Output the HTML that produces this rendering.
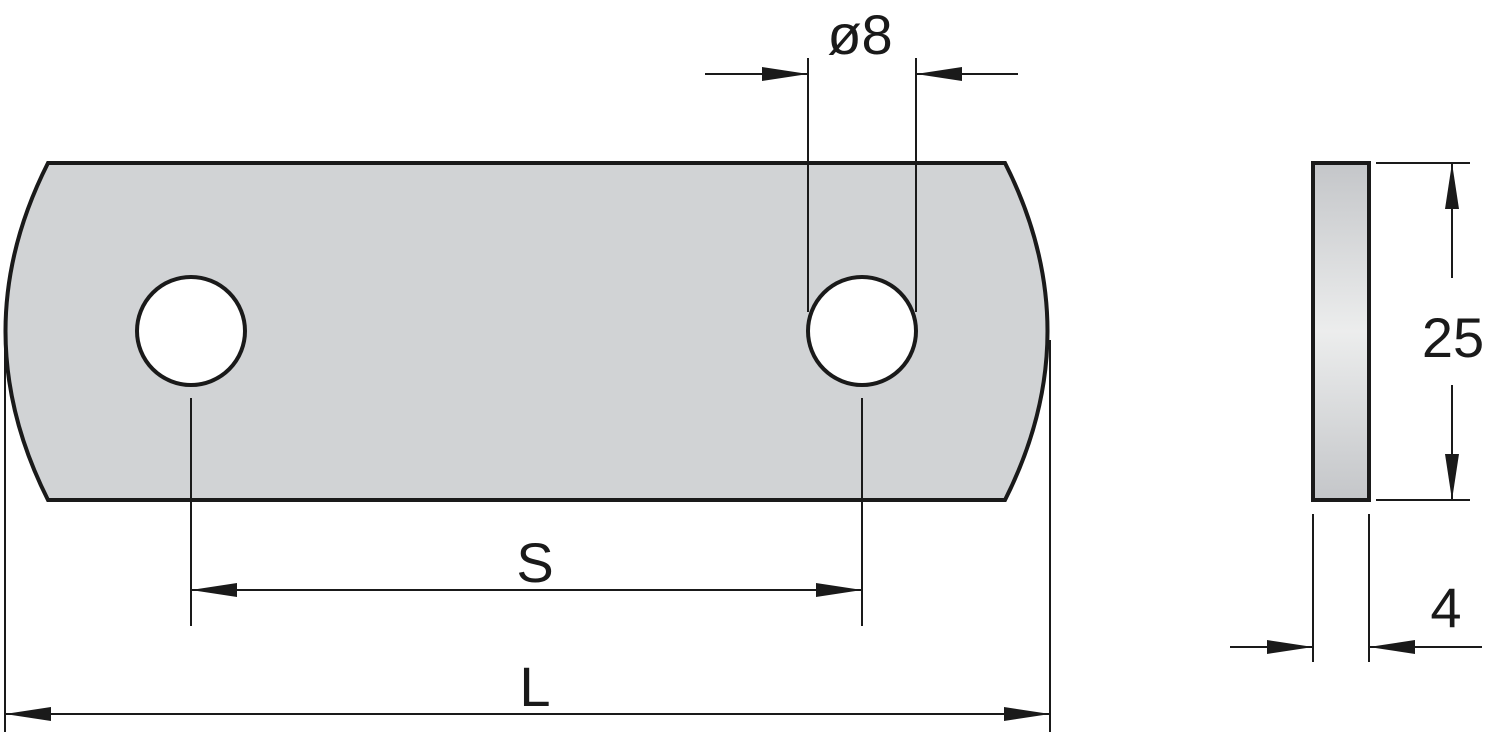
<!DOCTYPE html>
<html><head><meta charset="utf-8"><style>html,body{margin:0;padding:0;background:#fff}svg{display:block}</style></head>
<body>
<svg width="1488" height="734" viewBox="0 0 1488 734" xmlns="http://www.w3.org/2000/svg">
<defs>
<linearGradient id="g" x1="0" y1="0" x2="0" y2="1">
<stop offset="0" stop-color="#c4c6c9"/><stop offset="0.5" stop-color="#eceded"/><stop offset="1" stop-color="#c4c6c9"/>
</linearGradient>
<marker id="a" markerWidth="46" markerHeight="16" refX="46" refY="8" orient="auto" markerUnits="userSpaceOnUse">
<path d="M0,1 L46,8 L0,15 Z" fill="#1a1a1a"/></marker>
</defs>
<g stroke="#1a1a1a" fill="none">
<path d="M48,163 L1005,163 Q1090,331 1005,500 L48,500 Q-37,331 48,163 Z" fill="#d1d3d5" stroke-width="4"/>
<circle cx="191" cy="331" r="54" fill="#fff" stroke-width="4"/>
<circle cx="862" cy="331" r="54" fill="#fff" stroke-width="4"/>
<rect x="1313" y="163" width="56" height="337" fill="url(#g)" stroke-width="4"/>
<g stroke-width="2">
<line x1="808" y1="58" x2="808" y2="312"/><line x1="916" y1="58" x2="916" y2="312"/>
<line x1="705" y1="74" x2="808" y2="74" marker-end="url(#a)"/>
<line x1="1018" y1="74" x2="916" y2="74" marker-end="url(#a)"/>
<line x1="191" y1="398" x2="191" y2="626"/><line x1="862" y1="398" x2="862" y2="626"/>
<line x1="520" y1="590" x2="191" y2="590" marker-end="url(#a)"/>
<line x1="520" y1="590" x2="862" y2="590" marker-end="url(#a)"/>
<line x1="5" y1="340" x2="5" y2="732"/><line x1="1050" y1="340" x2="1050" y2="732"/>
<line x1="520" y1="714" x2="5" y2="714" marker-end="url(#a)"/>
<line x1="520" y1="714" x2="1050" y2="714" marker-end="url(#a)"/>
<line x1="1376" y1="163" x2="1470" y2="163"/><line x1="1376" y1="500" x2="1470" y2="500"/>
<line x1="1452" y1="278" x2="1452" y2="163" marker-end="url(#a)"/>
<line x1="1452" y1="385" x2="1452" y2="500" marker-end="url(#a)"/>
<line x1="1313" y1="514" x2="1313" y2="662"/><line x1="1369" y1="514" x2="1369" y2="662"/>
<line x1="1230" y1="647" x2="1313" y2="647" marker-end="url(#a)"/>
<line x1="1482" y1="647" x2="1369" y2="647" marker-end="url(#a)"/>
</g></g>
<g font-family="Liberation Sans, DejaVu Sans, sans-serif" font-size="56" fill="#1a1a1a" text-anchor="middle">
<text x="860" y="54">ø8</text>
<text x="535" y="582">S</text>
<text x="535" y="706">L</text>
<text x="1453" y="357">25</text>
<text x="1446" y="627">4</text>
</g>
</svg>
</body></html>
